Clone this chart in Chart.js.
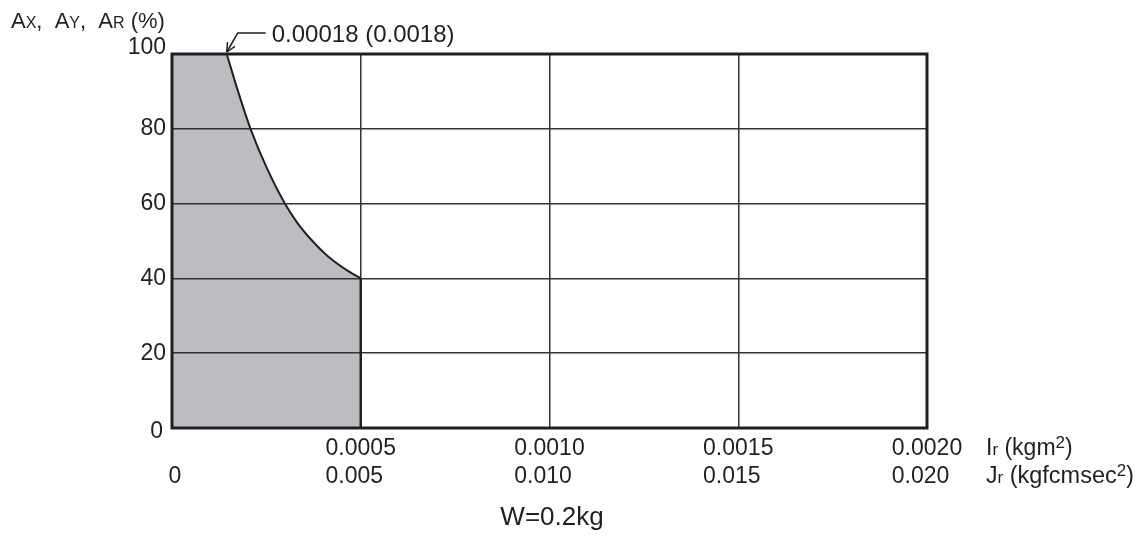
<!DOCTYPE html>
<html>
<head>
<meta charset="utf-8">
<script src="https://cdn.jsdelivr.net/npm/chart.js@4.4.1/dist/chart.umd.min.js"></script>
<style>
  html,body{margin:0;padding:0;background:#fff;}
  #wrap{width:1147px;height:537px;position:relative;}
</style>
</head>
<body>
<div id="wrap"><canvas id="mainChart" width="1147" height="537"></canvas></div>
<script>
// curve: Ir (kgm2) vs allowed ratio (%)
const curveX = [0.000145, 0.000175, 0.000208, 0.000249, 0.000299, 0.000331, 0.000372, 0.000412, 0.000466, 0.0005];
const curveY = [100, 90, 80, 70, 60, 55, 50, 46, 42, 40];
const yTicks = [0, 20, 40, 60, 80, 100];
const irTickVals = [0.0005, 0.0010, 0.0015, 0.0020];
const irTickLabels = ['0.0005', '0.0010', '0.0015', '0.0020'];
const jrTickLabels = ['0.005', '0.010', '0.015', '0.020'];
const noteText = '0.00018 (0.0018)';

const FONT = '"Liberation Sans", Arial, sans-serif';
const INK = '#231f20';
const GRAY = '#bcbdc1';

const curvePts = curveX.map((x,i)=>({x, y:curveY[i]}));
const xEnd = curveX[curveX.length-1], yEnd = curveY[curveY.length-1];

function runs(ctx, x, y, parts){
  parts.forEach(p=>{
    ctx.font = p.size + 'px ' + FONT;
    ctx.fillText(p.t, x, y - (p.dy||0));
    x += ctx.measureText(p.t).width;
  });
}

const labelsPlugin = {
  id:'labels',
  afterDraw(chart){
    const {ctx, chartArea:a, scales:{x, y}} = chart;
    ctx.save();
    // frame
    ctx.strokeStyle = INK; ctx.lineWidth = 3;
    ctx.strokeRect(a.left, a.top, a.right-a.left, a.bottom-a.top);

    ctx.fillStyle = INK;
    ctx.textBaseline = 'middle';
    ctx.textAlign = 'right';
    ctx.font = '23px ' + FONT;
    yTicks.forEach(v=>{
      // end labels sit a little outside the frame, as in the print
      const nudge = v === 100 ? -6 : (v === 0 ? 4 : 0);
      ctx.fillText(String(v), a.left - (v === 0 ? 9 : 6), y.getPixelForValue(v) + nudge);
    });

    ctx.textBaseline = 'alphabetic';
    // two rows of x labels, second row lined up on the left of the first
    irTickVals.forEach((v,i)=>{
      const px = x.getPixelForValue(v);
      ctx.font = '23px ' + FONT;
      const w = ctx.measureText(irTickLabels[i]).width;
      ctx.textAlign = 'left';
      ctx.fillText(irTickLabels[i], px - w/2, 455);
      ctx.fillText(jrTickLabels[i], px - w/2, 483);
    });
    ctx.textAlign = 'center';
    ctx.fillText('0', x.getPixelForValue(0) + 3, 483);

    ctx.textAlign = 'left';
    runs(ctx, 986, 455, [{t:'I',size:23},{t:'r',size:17},{t:' (kgm',size:23},{t:'2',size:17,dy:7},{t:')',size:23}]);
    runs(ctx, 986, 483, [{t:'J',size:23},{t:'r',size:17},{t:' (kgfcmsec',size:23.5},{t:'2',size:17,dy:7},{t:')',size:23}]);
    runs(ctx, 11, 28, [{t:'A',size:22},{t:'X',size:16},{t:',  A',size:22},{t:'Y',size:16},{t:',  A',size:22},{t:'R',size:16},{t:' (%)',size:22}]);

    ctx.textAlign = 'center';
    ctx.font = '26px ' + FONT;
    ctx.fillText('W=0.2kg', 552, 525);

    // leader to the top of the curve
    const tx = x.getPixelForValue(curveX[0]), ty = y.getPixelForValue(curveY[0]) - 2;
    ctx.lineWidth = 1.5;
    ctx.beginPath();
    ctx.moveTo(tx + 39, ty - 19);
    ctx.lineTo(tx + 11, ty - 19);
    ctx.lineTo(tx, ty);
    ctx.stroke();
    const ang = Math.atan2(-19, 11);
    ctx.beginPath();
    [0.45, -0.45].forEach(d=>{
      ctx.moveTo(tx, ty);
      ctx.lineTo(tx + 10*Math.cos(ang+d), ty + 10*Math.sin(ang+d));
    });
    ctx.stroke();
    ctx.textAlign = 'left';
    ctx.font = '24px ' + FONT;
    ctx.fillText(noteText, tx + 45, ty - 10);
    ctx.restore();
  }
};

new Chart(document.getElementById('mainChart'), {
  type:'scatter',
  data:{
    datasets:[
      { // shaded block left of the curve start (a hair wider to close the seam)
        data:[{x:0, y:curveY[0]}, {x:curveX[0] + 0.000003, y:curveY[0]}],
        showLine:true, borderWidth:0, borderColor:'rgba(0,0,0,0)',
        backgroundColor:GRAY, fill:'origin', pointRadius:0
      },
      { // the curve
        data:curvePts,
        showLine:true, borderColor:INK, borderWidth:2,
        backgroundColor:GRAY, fill:'origin', pointRadius:0,
        cubicInterpolationMode:'monotone'
      },
      { // drop at the curve end
        data:[{x:xEnd, y:yEnd}, {x:xEnd, y:0}],
        showLine:true, borderColor:INK, borderWidth:2.5, fill:false, pointRadius:0
      }
    ]
  },
  options:{
    responsive:false,
    animation:false,
    layout:{padding:{top:54, right:220, left:0, bottom:0}},
    plugins:{legend:{display:false}, tooltip:{enabled:false}, filler:{drawTime:'beforeDraw'}},
    scales:{
      x:{
        type:'linear', min:0, max:0.002,
        afterFit(s){ s.height = 109; },
        ticks:{display:false},
        afterBuildTicks(s){ s.ticks = [0].concat(irTickVals).map(v=>({value:v})); },
        grid:{color:'#333', lineWidth:1.5, drawTicks:false},
        border:{display:false}
      },
      y:{
        min:0, max:100,
        afterFit(s){ s.width = 172; },
        afterBuildTicks(s){ s.ticks = yTicks.map(v=>({value:v})); },
        ticks:{display:false},
        grid:{color:'#333', lineWidth:1.5, drawTicks:false},
        border:{display:false}
      }
    }
  },
  plugins:[labelsPlugin]
});
</script>
</body>
</html>
